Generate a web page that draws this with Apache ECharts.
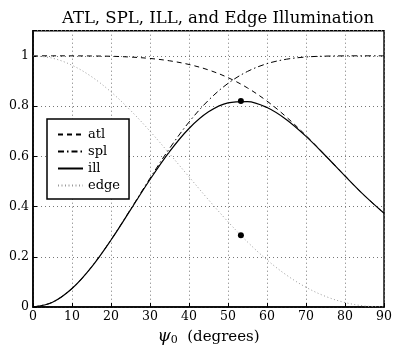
<!DOCTYPE html>
<html><head><meta charset="utf-8">
<script src="https://cdn.jsdelivr.net/npm/echarts@6/dist/echarts.min.js"></script>
<style>html,body{margin:0;padding:0;background:#fff}#c{width:395px;height:351px}</style>
</head><body><div id="c"></div>
<script>
const psi  = [0, 5, 10, 15, 20, 25, 30, 35, 40, 45, 50, 55, 60, 65, 70, 75, 80, 85, 90];
const atl  = [1, 1.0000, 0.9998, 0.9994, 0.9982, 0.9951, 0.9895, 0.9802, 0.9655, 0.9437, 0.9131, 0.8721, 0.8196, 0.7559, 0.6825, 0.6029, 0.5215, 0.4433, 0.3731];
const spl  = [0, 0.0189, 0.0737, 0.1592, 0.2673, 0.3885, 0.5129, 0.6312, 0.7362, 0.8232, 0.8903, 0.9379, 0.9688, 0.9865, 0.9953, 0.9988, 0.9998, 1.0000, 1];
const ill  = [0, 0.0189, 0.0737, 0.1591, 0.2668, 0.3866, 0.5075, 0.6187, 0.7108, 0.7769, 0.8129, 0.8179, 0.7940, 0.7457, 0.6793, 0.6022, 0.5214, 0.4433, 0.3731];
const edge = [1, 0.9905, 0.9625, 0.9171, 0.8564, 0.7829, 0.6998, 0.6103, 0.5182, 0.4268, 0.3394, 0.2588, 0.1875, 0.1270, 0.0785, 0.0422, 0.0177, 0.0041, 0];
const optPsi = 53.3;
const optIll = 0.8197;
const optEdge = 0.2854;
const xTicks = [0, 10, 20, 30, 40, 50, 60, 70, 80, 90];
const yTicks = [0, 0.2, 0.4, 0.6, 0.8, 1];

const pairs = arr => psi.map((x, i) => [x, arr[i]]);
const font = 'DejaVu Serif';
const chart = echarts.init(document.getElementById('c'), null, {renderer: 'canvas'});
const lineBase = {type: 'line', symbol: 'none', showSymbol: false, smooth: 0.35, animation: false};
chart.setOption({
  animation: false,
  backgroundColor: '#fff',
  title: {
    text: 'ATL, SPL, ILL, and Edge Illumination',
    left: 213, textAlign: 'center', top: 5,
    textStyle: {fontFamily: font, fontSize: 16.5, fontWeight: 'normal', color: '#000'}
  },
  grid: {left: 33, right: 6, top: 30.7, bottom: 40, show: true, borderColor: '#000', borderWidth: 1.5, backgroundColor: 'transparent'},
  legend: {
    data: ['atl', 'spl', 'ill', 'edge'],
    orient: 'vertical', left: 47, top: 119,
    backgroundColor: '#fff', borderColor: '#000', borderWidth: 1.5,
    padding: [9, 9, 7, 10], itemWidth: 25, itemHeight: 10, itemGap: 4,
    itemStyle: {color: 'transparent', borderColor: 'transparent', borderWidth: 0, opacity: 0},
    textStyle: {fontFamily: font, fontSize: 13, color: '#000'}
  },
  xAxis: {
    type: 'value', min: 0, max: 90, interval: 10,
    axisLine: {lineStyle: {color: '#000', width: 1.5}},
    axisTick: {inside: true, length: 4, lineStyle: {color: '#000'}},
    axisLabel: {fontFamily: font, fontSize: 12.5, color: '#000', margin: 3,
      formatter: v => xTicks.includes(v) ? String(v) : ''},
    splitLine: {lineStyle: {type: [1, 3], color: '#777', width: 1}},
    name: '{a|ψ}{b|0}{c|  (degrees)}', nameLocation: 'middle', nameGap: 21,
    nameTextStyle: {rich: {
      a: {fontFamily: font, fontSize: 17, fontStyle: 'italic', color: '#000'},
      b: {fontFamily: font, fontSize: 11, color: '#000', verticalAlign: 'bottom', padding: [7, 0, 0, 0]},
      c: {fontFamily: font, fontSize: 15, color: '#000'}
    }}
  },
  yAxis: {
    type: 'value', min: 0, max: 1.1, interval: 0.2,
    axisLine: {show: true, lineStyle: {color: '#000', width: 1.5}},
    axisTick: {show: true, inside: true, length: 4, lineStyle: {color: '#000'}},
    axisLabel: {fontFamily: font, fontSize: 12.5, color: '#000', margin: 4,
      formatter: v => {
        const t = yTicks.find(y => Math.abs(y - v) < 1e-6);
        if (t === undefined) return '';
        return (t === 0 || t === 1) ? String(t) : t.toFixed(1);
      }},
    splitLine: {lineStyle: {type: [1, 3], color: '#777', width: 1}}
  },
  series: [
    Object.assign({}, lineBase, {name: 'atl', data: pairs(atl), lineStyle: {color: '#000', width: 1, type: [5, 4]}, itemStyle: {color: '#000'}}),
    Object.assign({}, lineBase, {name: 'spl', data: pairs(spl), lineStyle: {color: '#000', width: 1, type: [6, 3, 1.5, 3]}, itemStyle: {color: '#000'}}),
    Object.assign({}, lineBase, {name: 'ill', data: pairs(ill), lineStyle: {color: '#000', width: 1.2, type: 'solid'}, itemStyle: {color: '#000'}}),
    Object.assign({}, lineBase, {name: 'edge', data: pairs(edge), lineStyle: {color: '#999', width: 1, type: [1, 2.5]}, itemStyle: {color: '#999'}}),
    {type: 'scatter', name: 'opt', data: [[optPsi, optIll], [optPsi, optEdge]], symbol: 'circle', symbolSize: 6, itemStyle: {color: '#000', opacity: 1}, z: 10}
  ]
});
</script></body></html>
